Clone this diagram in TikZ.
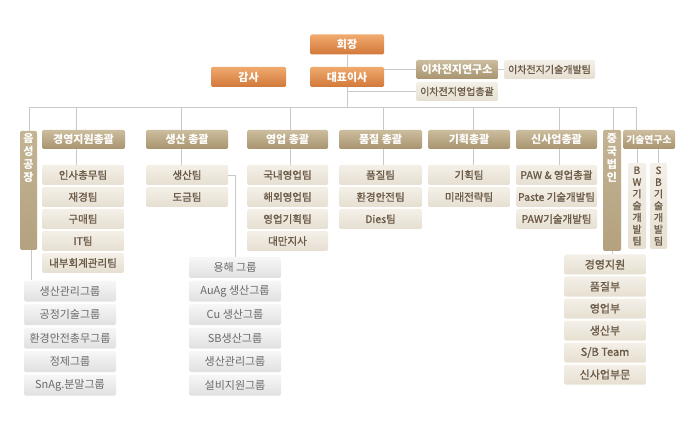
\documentclass[tikz,border=0pt]{standalone}
\usepackage{fontspec}
\newfontfamily\kr{Noto Sans CJK KR}
\newfontfamily\krm[FakeBold=1.2]{Noto Sans CJK KR}
\usetikzlibrary{backgrounds}
\definecolor{orgT}{HTML}{F0AA6E}
\definecolor{orgB}{HTML}{D2783A}
\definecolor{hdrT}{HTML}{CCBD9E}
\definecolor{hdrB}{HTML}{A8946F}
\definecolor{vT}{HTML}{C4B493}
\definecolor{vB}{HTML}{B3A17F}
\definecolor{itmT}{HTML}{F4F0E8}
\definecolor{itmB}{HTML}{E6DFD1}
\definecolor{itmTx}{HTML}{6B5B47}
\definecolor{grpT}{HTML}{F7F7F7}
\definecolor{grpB}{HTML}{E0E0E0}
\definecolor{grpTx}{HTML}{6A6A6A}
\definecolor{lnC}{HTML}{C8C8C8}
\begin{document}
\begin{tikzpicture}[x=1pt,y=-1pt,
  base/.style={inner sep=0pt, rounded corners=1.5pt, font=\krm\fontsize{10.5}{12}\selectfont},
  org/.style={base, top color=orgT, bottom color=orgB, text=white, font=\kr\bfseries\fontsize{11}{12}\selectfont, minimum width=74pt, minimum height=20pt},
  hdr/.style={base, top color=hdrT, bottom color=hdrB, text=white, font=\kr\bfseries\fontsize{11}{12}\selectfont, minimum height=19pt},
  vhdr/.style={base, top color=vT, bottom color=vB},
  vtxt/.style={inner sep=0pt, align=center, text=white, font=\kr\bfseries\fontsize{11}{13}\selectfont},
  item/.style={base, top color=itmT, bottom color=itmB, text=itmTx, minimum height=20pt},
  citem/.style={item, minimum width=82pt, font=\krm\fontsize{11}{12}\selectfont},
  vitem/.style={item, align=center, font=\krm\fontsize{10}{11.8}\selectfont},
  grp/.style={base, top color=grpT, bottom color=grpB, text=grpTx, minimum width=92pt, minimum height=21pt, font=\kr\fontsize{11}{12}\selectfont},
  ln/.style={draw=lnC, line width=0.8pt}]
\useasboundingbox (0,0) rectangle (697,425);

% top
\node[org] (hoejang) at (347,44.5) {회장};
\node[org] (daepyo) at (347,77) {대표이사};
\node[org, minimum width=75pt] (gamsa) at (248.5,77) {감사};
\node[hdr, minimum width=82pt] (yeon) at (457,69.5) {이차전지연구소};
\node[item, minimum width=91pt, minimum height=19pt, font=\krm\fontsize{10}{12}\selectfont] (tech) at (549.5,69.5) {이차전지기술개발팀};
\node[item, minimum width=82pt, minimum height=19pt, font=\krm\fontsize{10}{12}\selectfont] (yeongup) at (457,91.5) {이차전지영업총괄};

% 음성공장
\node[vhdr, minimum width=17pt, minimum height=119pt] (h0) at (28.5,190.5) {};
\node[vtxt, anchor=north] (h0t) at (28.5,133) {음\\성\\공\\장};

% column 1
\node[hdr, minimum width=83pt] (h1) at (83.5,139.5) {경영지원총괄};
\node[item, minimum width=82pt] (a1) at (83,175) {인사총무팀};
\node[item, minimum width=82pt] (a2) at (83,197) {재경팀};
\node[item, minimum width=82pt] (a3) at (83,219) {구매팀};
\node[item, minimum width=82pt] (a4) at (83,241) {IT팀};
\node[item, minimum width=82pt] (a5) at (83,263) {내부회계관리팀};

% column 2
\node[hdr, minimum width=82pt] (h2) at (187,139.5) {생산 총괄};
\node[item, minimum width=82pt] (b1) at (187,175) {생산팀};
\node[item, minimum width=82pt] (b2) at (187,197) {도금팀};

% column 3
\node[hdr, minimum width=81pt] (h3) at (287.5,139.5) {영업 총괄};
\node[item, minimum width=81pt] (c1) at (287.5,175) {국내영업팀};
\node[item, minimum width=81pt] (c2) at (287.5,197) {해외영업팀};
\node[item, minimum width=81pt] (c3) at (287.5,219) {영업기획팀};
\node[item, minimum width=81pt] (c4) at (287.5,241) {대만지사};

% column 4
\node[hdr, minimum width=83pt] (h4) at (380.5,139.5) {품질 총괄};
\node[item, minimum width=83pt] (d1) at (380.5,175) {품질팀};
\node[item, minimum width=83pt] (d2) at (380.5,197) {환경안전팀};
\node[item, minimum width=83pt] (d3) at (380.5,219) {Dies팀};

% column 5
\node[hdr, minimum width=82pt] (h5) at (469,139.5) {기획총괄};
\node[item, minimum width=82pt] (e1) at (469,175) {기획팀};
\node[item, minimum width=82pt] (e2) at (469,197) {미래전략팀};

% column 6
\node[hdr, minimum width=81pt] (h6) at (556.5,139.5) {신사업총괄};
\node[item, minimum width=81pt] (f1) at (556.5,175) {PAW \& 영업총괄};
\node[item, minimum width=81pt] (f2) at (556.5,197) {Paste 기술개발팀};
\node[item, minimum width=81pt] (f3) at (556.5,219) {PAW기술개발팀};

% 중국법인
\node[vhdr, minimum width=18pt, minimum height=121pt] (h7) at (612,190.5) {};
\node[vtxt, anchor=north] (h7t) at (612,133) {중\\국\\법\\인};

% 기술연구소
\node[hdr, minimum width=52pt, font=\kr\bfseries\fontsize{9.8}{12}\selectfont] (h8) at (649,139.5) {기술연구소};
\node[vitem, minimum width=18pt, minimum height=86pt] (g1) at (637,206) {B\\W\\기\\술\\개\\발\\팀};
\node[vitem, minimum width=17pt, minimum height=86pt] (g2) at (658.5,206) {S\\B\\기\\술\\개\\발\\팀};

% 중국법인 sub
\node[citem] (k1) at (605,264.5) {경영지원};
\node[citem] (k2) at (605,286.5) {품질부};
\node[citem] (k3) at (605,308.5) {영업부};
\node[citem] (k4) at (605,330.5) {생산부};
\node[citem] (k5) at (605,352.5) {S/B Team};
\node[citem] (k6) at (605,374.5) {신사업부문};

% gray groups left
\node[grp] (p1) at (70,291) {생산관리그룹};
\node[grp] (p2) at (70,314.5) {공정기술그룹};
\node[grp] (p3) at (70,338) {환경안전총무그룹};
\node[grp] (p4) at (70,361.5) {정제그룹};
\node[grp] (p5) at (70,385) {SnAg.분말그룹};

% gray groups right
\node[grp] (q1) at (235,267.5) {용해 그룹};
\node[grp] (q2) at (235,291) {AuAg 생산그룹};
\node[grp] (q3) at (235,314.5) {Cu 생산그룹};
\node[grp] (q4) at (235,338) {SB생산그룹};
\node[grp] (q5) at (235,361.5) {생산관리그룹};
\node[grp] (q6) at (235,385) {설비지원그룹};

\begin{pgfonlayer}{background}
\coordinate (busL) at (29,107);
\coordinate (busR) at (636,107);
\coordinate (x1) at (76,107);
\coordinate (x2) at (181,107);
\coordinate (x3) at (290,107);
\coordinate (x4) at (383,107);
\coordinate (x5) at (473,107);
\coordinate (x6) at (559,107);
\coordinate (x7) at (613,107);
\coordinate (x0) at (31,250);
\draw[ln] (hoejang.south) -- (hoejang.south |- busL);
\draw[ln] (busL) -- (busR);
\draw[ln] (yeon.west) -- (yeon.west -| daepyo.east);
\draw[ln] (yeon.east) -- (tech.west);
\draw[ln] (yeongup.west) -- (yeongup.west -| hoejang.south);
\draw[ln] (busL) -- (busL |- h0.north);
\draw[ln] (x1) -- (x1 |- h1.north);
\draw[ln] (h1.south -| x1) -- (a1.north -| x1);
\draw[ln] (x2) -- (x2 |- h2.north);
\draw[ln] (h2.south -| x2) -- (b1.north -| x2);
\draw[ln] (x3) -- (x3 |- h3.north);
\draw[ln] (h3.south -| x3) -- (c1.north -| x3);
\draw[ln] (x4) -- (x4 |- h4.north);
\draw[ln] (h4.south -| x4) -- (d1.north -| x4);
\draw[ln] (x5) -- (x5 |- h5.north);
\draw[ln] (h5.south -| x5) -- (e1.north -| x5);
\draw[ln] (x6) -- (x6 |- h6.north);
\draw[ln] (h6.south -| x6) -- (f1.north -| x6);
\draw[ln] (x7) -- (x7 |- h7.north);
\draw[ln] (busR) -- (busR |- h8.north);
\draw[ln] (h8.south -| g1.north) -- (g1.north);
\draw[ln] (h8.south -| g2.north) -- (g2.north);
\draw[ln] (h7.south) -- (k1.north -| h7.south);
\draw[ln] (x0) -- (x0 |- p1.north);
\draw[ln] (b1.east) -| (q1.north);
\end{pgfonlayer}
\end{tikzpicture}
\end{document}
